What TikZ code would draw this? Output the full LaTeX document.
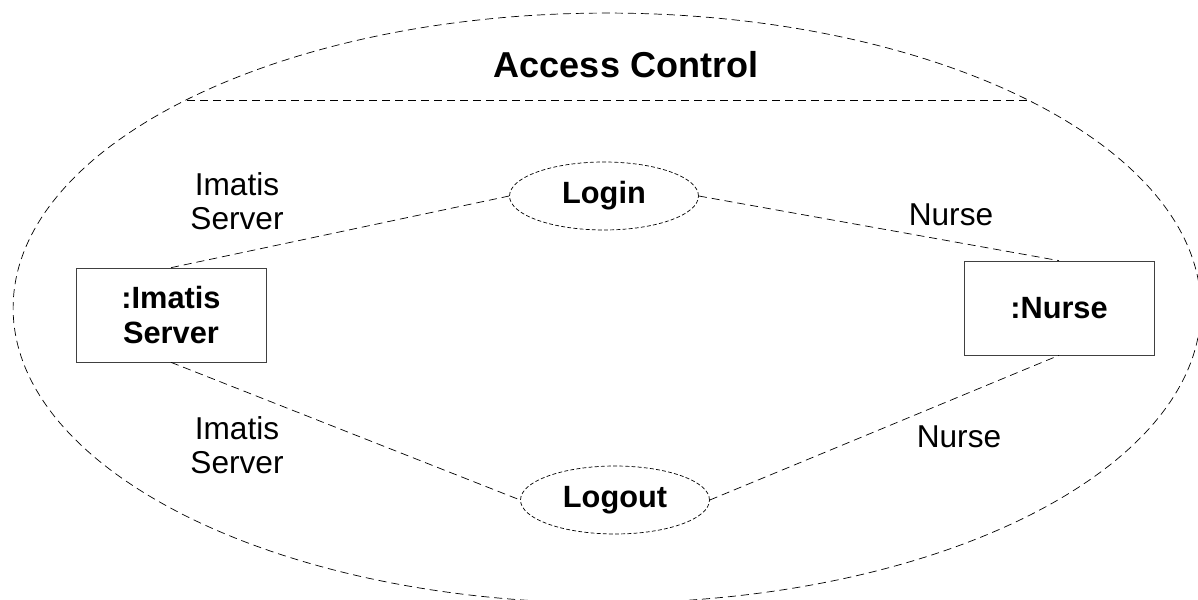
\documentclass[tikz,border=0pt]{standalone}
\usepackage{fontspec}
\setmainfont{Liberation Sans}
\usetikzlibrary{shapes.geometric}

\begin{document}
\begin{tikzpicture}[x=0.02cm,y=-0.02cm,
    usecase/.style={draw,ellipse,dash pattern=on 2.2pt off 1.3pt,
      minimum width=3.78cm,minimum height=1.36cm,inner sep=0pt,
      font=\fontsize{17.5}{20}\selectfont\bfseries},
    object/.style={draw=black!75,minimum width=3.8cm,minimum height=1.88cm,
      inner sep=0pt,align=center,font=\fontsize{17.5}{20}\selectfont\bfseries},
    role/.style={align=center,font=\fontsize{18}{19.3}\selectfont},
    link/.style={dash pattern=on 4.6pt off 2.8pt}]
  \useasboundingbox (0,0) rectangle (1198,599);

  % system boundary
  \draw[link] (607,308) ellipse [x radius=11.88cm, y radius=5.9cm];
  \coordinate (sepL) at (187,100);
  \coordinate (sepR) at (1029,100);
  \draw[link] (sepL) -- (sepR);
  \node[font=\fontsize{20.5}{24}\selectfont\bfseries] (title) at (626,65) {Access Control};

  % objects and use cases
  \node[object] (imatis) at (171,315) {:Imatis\\Server};
  \node[object] (nurse) at (1059,308) {:Nurse};
  \node[usecase] (login) at (604,196) {Login};
  \node[usecase] (logout) at (615,500) {Logout};

  \draw[link] (imatis.north) -- (login.west);
  \draw[link] (login.east) -- (nurse.north);
  \draw[link] (imatis.south) -- (logout.west);
  \draw[link] (logout.east) -- (nurse.south);

  % role names
  \node[role] (r1) at (237,201) {Imatis\\Server};
  \node[role] (r2) at (951,215) {Nurse};
  \node[role] (r3) at (237,445) {Imatis\\Server};
  \node[role] (r4) at (959,437) {Nurse};
\end{tikzpicture}
\end{document}
